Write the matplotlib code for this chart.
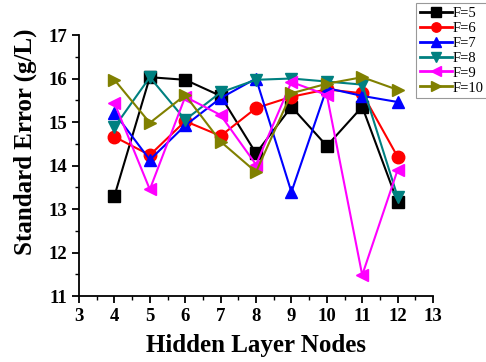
import matplotlib
matplotlib.use("Agg")
import matplotlib.pyplot as plt
from matplotlib.ticker import MultipleLocator

plt.rcParams['font.family'] = ['Liberation Serif', 'DejaVu Serif']

nodes = [4, 5, 6, 7, 8, 9, 10, 11, 12]
f5 = [13.30, 16.03, 15.97, 15.60, 14.28, 15.35, 14.45, 15.35, 13.16]
f6 = [14.66, 14.24, 15.02, 14.68, 15.32, 15.58, 15.75, 15.66, 14.20]
f7 = [15.21, 14.13, 14.92, 15.55, 16.00, 13.39, 15.78, 15.60, 15.46]
f8 = [14.88, 16.03, 15.05, 15.68, 15.97, 16.00, 15.93, 15.86, 13.28]
f9 = [15.44, 13.45, 15.58, 15.16, 14.02, 15.92, 15.62, 11.48, 13.90]
f10 = [15.97, 14.98, 15.62, 14.55, 13.85, 15.66, 15.88, 16.03, 15.74]

series = [
    ("F=5", f5, "black", "s"),
    ("F=6", f6, "#FF0000", "o"),
    ("F=7", f7, "#0000FF", "^"),
    ("F=8", f8, "#008080", "v"),
    ("F=9", f9, "#FF00FF", "<"),
    ("F=10", f10, "#808000", ">"),
]

fig = plt.figure(figsize=(4.86, 3.62), dpi=100)
ax = fig.add_axes([0.1626, 0.1823, 0.7284, 0.7210])

for label, vals, color, marker in series:
    ax.plot(nodes, vals, color=color, marker=marker, markersize=9,
            linewidth=1.5, label=label)

ax.set_xlim(3, 13)
ax.set_ylim(11, 17)
ax.xaxis.set_major_locator(MultipleLocator(1))
ax.xaxis.set_minor_locator(MultipleLocator(0.5))
ax.yaxis.set_major_locator(MultipleLocator(1))
ax.yaxis.set_minor_locator(MultipleLocator(0.5))
ax.spines['top'].set_visible(False)
ax.spines['right'].set_visible(False)
for s in ('left', 'bottom'):
    ax.spines[s].set_linewidth(1.3)
ax.tick_params(which='major', direction='out', length=5, width=1.3, labelsize=13.5)
ax.tick_params(which='minor', direction='out', length=3, width=1.0)
for lab in ax.get_xticklabels() + ax.get_yticklabels():
    lab.set_fontweight('bold')

ax.set_xlabel("Hidden Layer Nodes", fontsize=18, fontweight='bold')
ax.set_ylabel("Standard Error (g/L)", fontsize=18, fontweight='bold')
ax.xaxis.set_label_coords(0.5, -0.145)
ax.yaxis.set_label_coords(-0.118, 0.59)

leg = fig.legend(loc='upper right', bbox_to_anchor=(1.002, 0.992), fontsize=10.5,
                 frameon=True, fancybox=False, edgecolor='gray',
                 handlelength=2.2, handletextpad=0.05, borderpad=0.25,
                 labelspacing=0.12, borderaxespad=0, markerscale=0.75)
leg.get_frame().set_linewidth(0.8)
for line in leg.get_lines():
    line.set_linewidth(2.0)

fig.savefig("out.png", dpi=100)
